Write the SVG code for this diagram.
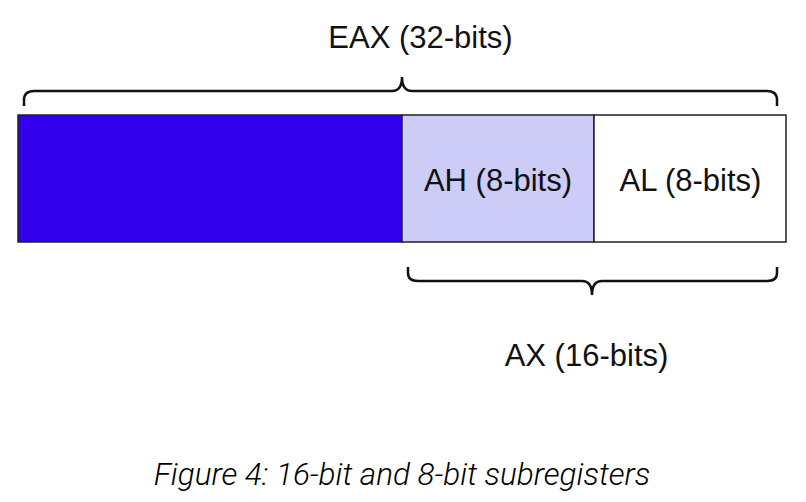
<svg xmlns="http://www.w3.org/2000/svg" width="806" height="502" viewBox="0 0 806 502">
<style>
.lbl{font-family:"Liberation Sans",Arial,sans-serif;font-size:31px;fill:#111;text-anchor:middle}
.cap{font-family:Roboto,"Noto Sans",sans-serif;font-weight:300;font-style:italic;font-size:31.5px;fill:#000;text-anchor:middle}
.cell{stroke:#222;stroke-width:1.5}
.brace{fill:none;stroke:#111;stroke-width:2.5}
</style>
<rect width="806" height="502" fill="#fff"/>
<g id="eax-high"><rect class="cell" x="18" y="115" width="384" height="127" fill="#3300ee"/></g>
<g id="ah"><rect class="cell" x="402" y="115" width="192" height="127" fill="#ccccf6"/><text class="lbl" x="498" y="191">AH (8-bits)</text></g>
<g id="al"><rect class="cell" x="594" y="115" width="192" height="127" fill="#fff"/><text class="lbl" x="690.5" y="191">AL (8-bits)</text></g>
<g id="connectors">
<path class="brace" d="M24,106 V100 Q24,91 34,91 H392 Q402,91 402,77 Q402,91 412,91 H767 Q777,91 777,100 V106"/>
<path class="brace" d="M408,267 V273 Q408,281 418,281 H582 Q592,281 592,295 Q592,281 602,281 H767 Q777,281 777,273 V267"/>
</g>
<g id="eax-label"><text class="lbl" x="420.5" y="48">EAX (32-bits)</text></g>
<g id="ax-label"><text class="lbl" x="586.5" y="366">AX (16-bits)</text></g>
<text class="cap" x="402" y="485">Figure 4: 16-bit and 8-bit subregisters</text>
</svg>
